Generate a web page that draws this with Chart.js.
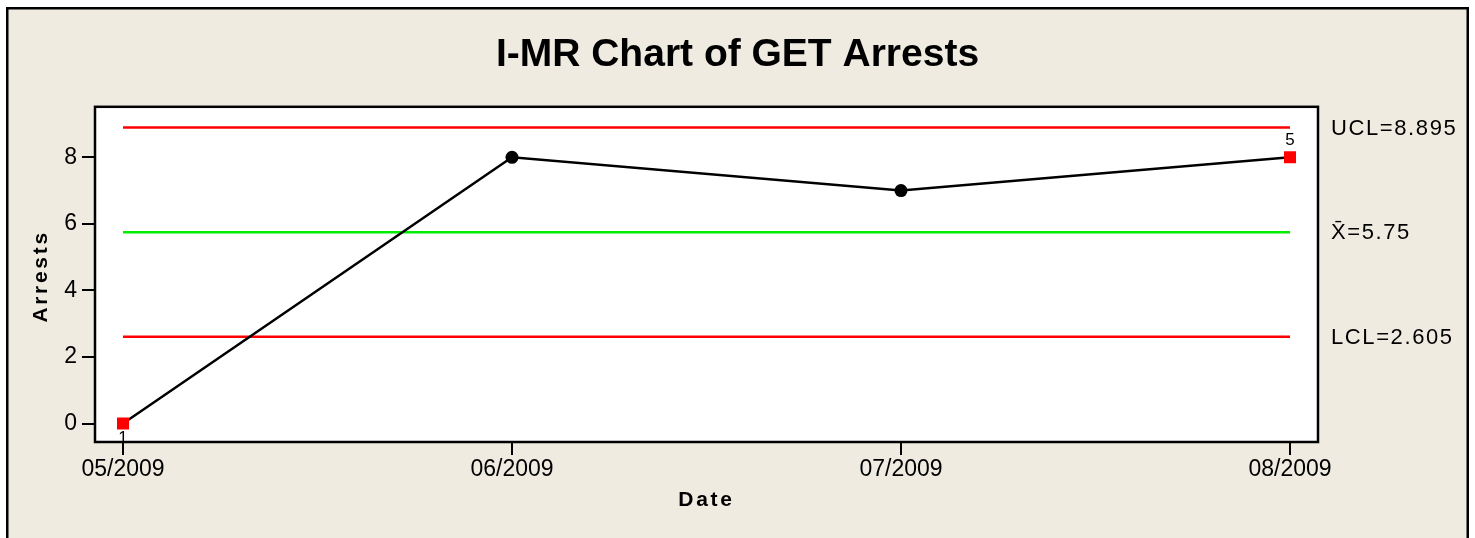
<!DOCTYPE html>
<html>
<head>
<meta charset="utf-8">
<script src="https://cdn.jsdelivr.net/npm/chart.js@4/dist/chart.umd.min.js"></script>
<style>
  html, body { margin: 0; padding: 0; background: #fff; }
  #wrap { width: 1475px; height: 538px; }
</style>
</head>
<body>
<div id="wrap"><canvas id="chart" width="1475" height="538"></canvas></div>
<script>
// I-MR individuals chart data
const dates = ["05/2009", "06/2009", "07/2009", "08/2009"];
const arrests = [0, 8, 7, 8];
const failedTests = [1, null, null, 5]; // test number flagged on a point
const yTicks = [0, 2, 4, 6, 8];
const ucl = 8.895;
const mean = 5.75;
const lcl = 2.605;
const limitValues = [ucl, mean, lcl];
const limitLabels = ["UCL=8.895", "X\u0304=5.75", "LCL=2.605"];

const FONT = "'Liberation Sans', Arial, sans-serif";
const BEIGE = "#efebe1";

const lineAcross = v => [{ x: 0, y: v }, { x: dates.length - 1, y: v }];

const frame = {
  id: "frame",
  beforeDraw(chart) {
    const { ctx, width, height, chartArea: a } = chart;
    ctx.save();
    ctx.fillStyle = "#fff";
    ctx.fillRect(0, 0, width, height);
    ctx.fillStyle = BEIGE;
    ctx.fillRect(7, 8, 1461, height);
    ctx.strokeStyle = "#000";
    ctx.lineWidth = 2.5;
    ctx.strokeRect(7.25, 8.25, 1460.5, height + 10);
    ctx.fillStyle = "#fff";
    ctx.fillRect(a.left, a.top, a.right - a.left, a.bottom - a.top);
    ctx.restore();
  },
  afterDatasetsDraw(chart) {
    const { ctx, chartArea: a } = chart;
    ctx.save();
    ctx.strokeStyle = "#000";
    ctx.lineWidth = 2.5;
    ctx.strokeRect(a.left, a.top, a.right - a.left, a.bottom - a.top);
    ctx.restore();
  }
};

// spaced-out axis titles, limit labels and test numbers
const labels = {
  id: "labels",
  afterDraw(chart) {
    const { ctx, chartArea: a, scales: { y } } = chart;
    ctx.save();
    ctx.fillStyle = "#000";
    ctx.textBaseline = "middle";
    ctx.textAlign = "center";
    ctx.font = `bold 21px ${FONT}`;
    ctx.letterSpacing = "2.7px";
    ctx.fillText("Date", (a.left + a.right) / 2, a.bottom + 58);
    ctx.save();
    ctx.translate(41, (a.top + a.bottom) / 2 + 2);
    ctx.rotate(-Math.PI / 2);
    ctx.fillText("Arrests", 0, 0);
    ctx.restore();

    ctx.font = `22px ${FONT}`;
    ctx.textAlign = "left";
    ctx.letterSpacing = "1.6px";
    limitLabels.forEach((t, i) => {
      ctx.fillText(t, a.right + 13, y.getPixelForValue(limitValues[i]) + 1);
    });

    ctx.font = `17px ${FONT}`;
    ctx.textAlign = "center";
    ctx.letterSpacing = "0px";
    const meta = chart.getDatasetMeta(0);
    failedTests.forEach((t, i) => {
      if (t == null) return;
      const p = meta.data[i];
      const below = arrests[i] < mean;
      ctx.fillText(String(t), p.x, p.y + (below ? 15 : -17));
    });
    ctx.restore();
  }
};

const tickGrid = { drawOnChartArea: false, drawTicks: true, tickLength: 13, color: "#000", lineWidth: 2 };

new Chart(document.getElementById("chart"), {
  type: "line",
  data: {
    datasets: [
      {
        label: "Arrests",
        data: arrests.map((v, i) => ({ x: i, y: v })),
        borderColor: "#000",
        borderWidth: 2.5,
        tension: 0,
        pointStyle: c => failedTests[c.dataIndex] ? "rect" : "circle",
        pointRadius: c => failedTests[c.dataIndex] ? 8.5 : 6.5,
        pointBackgroundColor: c => failedTests[c.dataIndex] ? "#ff0000" : "#000",
        pointBorderWidth: 0
      },
      { label: "UCL", data: lineAcross(ucl), borderColor: "#ff0000", borderWidth: 2.5, pointRadius: 0 },
      { label: "Mean", data: lineAcross(mean), borderColor: "#00ee00", borderWidth: 2.5, pointRadius: 0 },
      { label: "LCL", data: lineAcross(lcl), borderColor: "#ff0000", borderWidth: 2.5, pointRadius: 0 }
    ]
  },
  options: {
    responsive: false,
    animation: false,
    layout: { padding: 0 },
    plugins: {
      legend: { display: false },
      tooltip: { enabled: false },
      title: {
        display: true,
        text: "I-MR Chart of GET Arrests",
        color: "#000",
        font: { family: FONT, size: 39, weight: "bold", lineHeight: 1.2 },
        padding: { top: 32, bottom: 28 }
      }
    },
    scales: {
      x: {
        type: "linear",
        min: -0.072,
        max: 3.072,
        afterBuildTicks: s => { s.ticks = dates.map((_, i) => ({ value: i })); },
        afterFit: s => { s.height = 96; },
        ticks: {
          callback: v => dates[v],
          color: "#000",
          font: { family: FONT, size: 23 },
          padding: 1,
          maxRotation: 0,
          autoSkip: false
        },
        grid: tickGrid,
        border: { display: false }
      },
      y: {
        min: -0.556,
        max: 9.519,
        afterBuildTicks: s => { s.ticks = yTicks.map(v => ({ value: v })); },
        afterFit: s => { s.width = 95; },
        ticks: { color: "#000", font: { family: FONT, size: 23 }, padding: 5 },
        grid: tickGrid,
        border: { display: false }
      },
      y2: {
        position: "right",
        afterFit: s => { s.width = 157; },
        ticks: { display: false },
        grid: { display: false },
        border: { display: false }
      }
    }
  },
  plugins: [frame, labels]
});
</script>
</body>
</html>
